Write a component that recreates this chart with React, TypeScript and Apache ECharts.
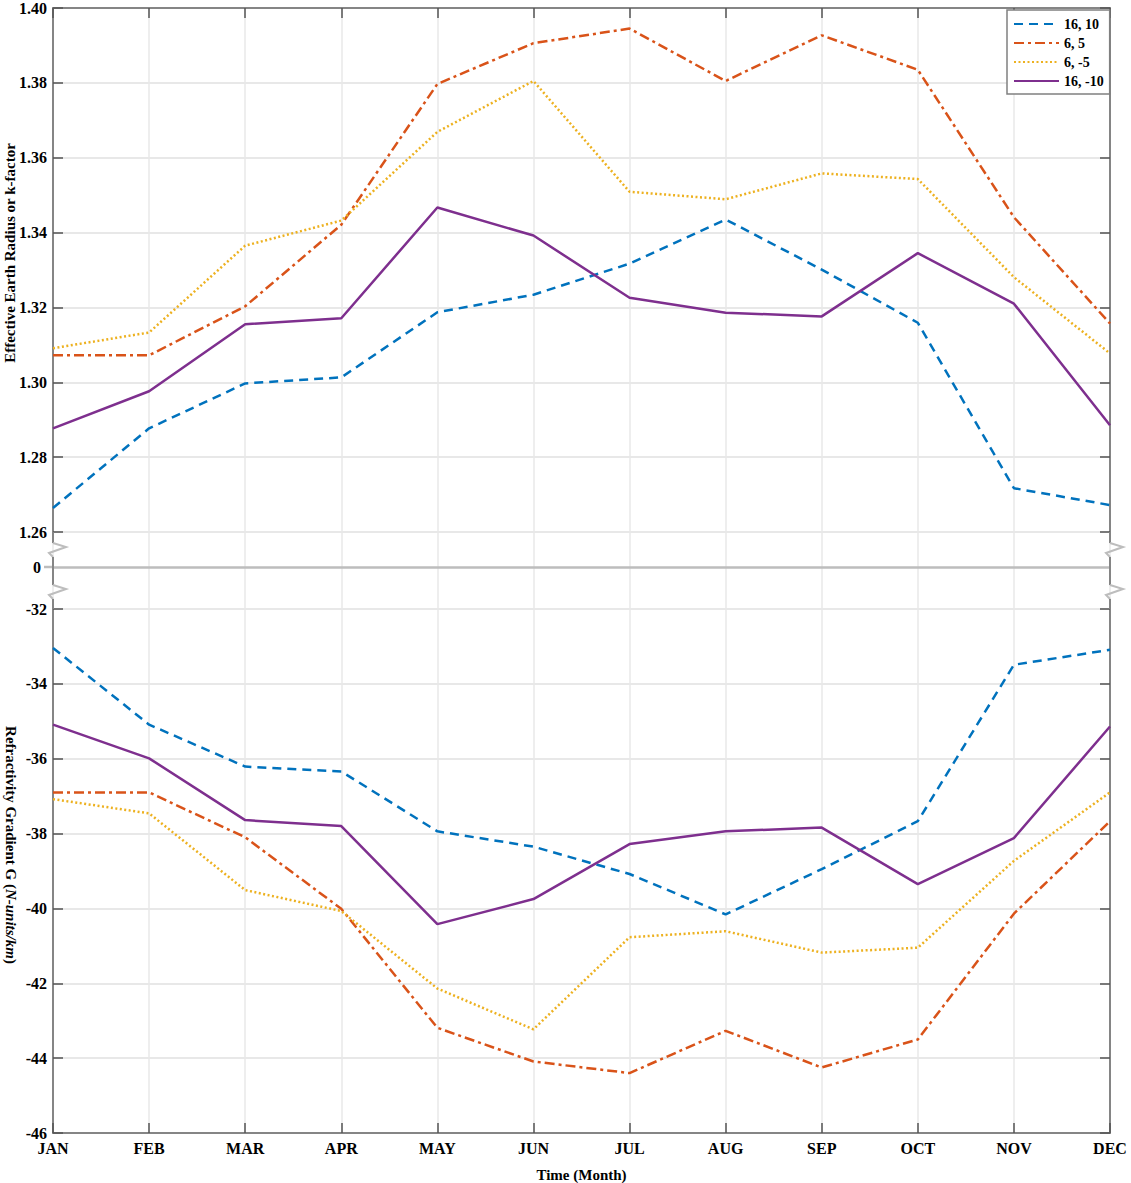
import React, { useEffect, useRef } from "react";
import * as echarts from "echarts";

const months = ["JAN", "FEB", "MAR", "APR", "MAY", "JUN", "JUL", "AUG", "SEP", "OCT", "NOV", "DEC"];
const seriesNames = ["16, 10", "6, 5", "6, -5", "16, -10"];

// Effective Earth Radius (k-factor)
const kBlue = [1.2664, 1.2877, 1.2997, 1.3013, 1.3187, 1.3234, 1.3317, 1.3435, 1.3301, 1.3159, 1.2717, 1.2672];
const kOrange = [1.3072, 1.3072, 1.3203, 1.3421, 1.3797, 1.3906, 1.3945, 1.3805, 1.3927, 1.3835, 1.3441, 1.3157];
const kYellow = [1.3091, 1.3133, 1.3365, 1.3432, 1.3669, 1.3805, 1.3509, 1.3489, 1.3558, 1.3543, 1.3281, 1.3077];
const kPurple = [1.2877, 1.2976, 1.3155, 1.3171, 1.3467, 1.3392, 1.3226, 1.3186, 1.3176, 1.3345, 1.321, 1.2885];

// Refractivity gradient G (N-units/km)
const gBlue = [-33.04, -35.09, -36.21, -36.34, -37.94, -38.35, -39.08, -40.16, -38.95, -37.67, -33.49, -33.09];
const gOrange = [-36.9, -36.9, -38.1, -40.01, -43.19, -44.09, -44.4, -43.27, -44.25, -43.5, -40.14, -37.67];
const gYellow = [-37.08, -37.46, -39.51, -40.07, -42.14, -43.23, -40.77, -40.61, -41.18, -41.05, -38.73, -36.9];
const gPurple = [-35.09, -35.99, -37.64, -37.8, -40.42, -39.75, -38.28, -37.94, -37.84, -39.35, -38.12, -35.14];

const kTicks = { min: 1.26, max: 1.4, interval: 0.02 };
const gTicks = { min: -46, max: -32, interval: 2 };

const SERIF = '"Liberation Serif", "Times New Roman", serif';
const colors = ["#0072BD", "#D95319", "#EDB120", "#7E2F8E"];
const lineTypes: any[] = [[9, 6], [10, 4, 3, 4], [2, 2.5], "solid"];

const AXIS = "#858585";
const TICK = "#555555";
const GRID = "#e8e8e8";
const BREAK = "#bdbdbd";

export default function App() {
  const ref = useRef<HTMLDivElement>(null);

  useEffect(() => {
    if (!ref.current) return;
    const chart = echarts.init(ref.current, undefined, { renderer: "svg" });

    const kData = [kBlue, kOrange, kYellow, kPurple];
    const gData = [gBlue, gOrange, gYellow, gPurple];

    const mkSeries = (data: number[], i: number, xi: number, yi: number) => ({
      name: seriesNames[i],
      type: "line",
      xAxisIndex: xi,
      yAxisIndex: yi,
      data,
      symbol: "none",
      showSymbol: false,
      z: 3,
      lineStyle: { color: colors[i], width: 2.5, type: lineTypes[i] },
      itemStyle: { color: colors[i] },
    });

    const tickLabel = { color: "#000", fontFamily: SERIF, fontWeight: "bold", fontSize: 16 };

    const leftY = (grid: number, t: any, fmt: (v: number) => string) => ({
      type: "value",
      gridIndex: grid,
      position: "left",
      min: t.min,
      max: t.max,
      interval: t.interval,
      axisLine: { show: true, lineStyle: { color: AXIS, width: 2 } },
      axisTick: { show: true, inside: true, length: 10, lineStyle: { color: TICK, width: 1.5 } },
      axisLabel: { ...tickLabel, margin: 6, formatter: fmt },
      splitLine: { show: true, lineStyle: { color: GRID, width: 2 } },
    });
    const rightY = (grid: number, t: any) => ({
      type: "value",
      gridIndex: grid,
      position: "right",
      min: t.min,
      max: t.max,
      interval: t.interval,
      axisLine: { show: true, lineStyle: { color: AXIS, width: 2 } },
      axisTick: { show: true, inside: true, length: 10, lineStyle: { color: TICK, width: 1.5 } },
      axisLabel: { show: false },
      splitLine: { show: false },
    });

    const zig = (x: number, y: number) => ({
      type: "polyline",
      silent: true,
      shape: { points: [[x, y], [x + 13, y + 4], [x - 4, y + 10], [x, y + 14]] },
      style: { stroke: BREAK, lineWidth: 2, fill: "none" },
      z: 10,
    });
    const vseg = (x: number, y1: number, y2: number) => ({
      type: "line",
      silent: true,
      shape: { x1: x, y1, x2: x, y2 },
      style: { stroke: AXIS, lineWidth: 2 },
      z: 10,
    });
    const breakMarks = (x: number) => [
      vseg(x, 532, 543),
      zig(x, 543),
      vseg(x, 557, 585),
      zig(x, 585),
      vseg(x, 599, 609),
    ];

    const option: any = {
      animation: false,
      backgroundColor: "#ffffff",
      grid: [
        { left: 53, right: 21, top: 7, height: 525 },
        { left: 53, right: 21, top: 609, height: 526 },
        { left: 53, right: 21, top: 532, height: 77 },
      ],
      legend: {
        data: seriesNames,
        orient: "vertical",
        left: 1007,
        top: 10,
        itemWidth: 45,
        itemHeight: 14,
        itemGap: 5,
        padding: [7, 6, 6, 6],
        borderColor: "#808080",
        borderWidth: 1.5,
        backgroundColor: "#ffffff",
        itemStyle: { opacity: 0, borderWidth: 0 },
        textStyle: { color: "#000", fontFamily: SERIF, fontWeight: "bold", fontSize: 14 },
      },
      xAxis: [
        {
          type: "category",
          gridIndex: 0,
          position: "top",
          data: months,
          boundaryGap: false,
          axisLine: { show: true, lineStyle: { color: AXIS, width: 2 } },
          axisTick: { show: true, inside: true, length: 10, lineStyle: { color: TICK, width: 1.5 } },
          axisLabel: { show: false },
          splitLine: { show: true, lineStyle: { color: GRID, width: 1.5 } },
        },
        {
          type: "category",
          gridIndex: 1,
          position: "bottom",
          data: months,
          boundaryGap: false,
          name: "Time (Month)",
          nameLocation: "middle",
          nameGap: 34,
          nameTextStyle: { color: "#000", fontFamily: SERIF, fontWeight: "bold", fontSize: 15 },
          axisLine: { show: true, lineStyle: { color: AXIS, width: 2 } },
          axisTick: { show: true, inside: true, length: 10, lineStyle: { color: TICK, width: 1.5 } },
          axisLabel: { ...tickLabel, margin: 7 },
          splitLine: { show: true, lineStyle: { color: GRID, width: 1.5 } },
        },
        {
          type: "category",
          gridIndex: 2,
          data: months,
          boundaryGap: false,
          axisLine: { show: false },
          axisTick: { show: false },
          axisLabel: { show: false },
          splitLine: { show: true, lineStyle: { color: GRID, width: 1.5 } },
        },
      ],
      yAxis: [
        leftY(0, kTicks, (v: number) => v.toFixed(2)),
        rightY(0, kTicks),
        leftY(1, gTicks, (v: number) => String(Math.round(v))),
        rightY(1, gTicks),
        {
          type: "value",
          gridIndex: 2,
          position: "left",
          min: -6,
          max: 5,
          interval: 1,
          axisLine: { show: false },
          axisTick: { show: false },
          axisLabel: {
            ...tickLabel,
            margin: 12,
            formatter: (v: number) => (Math.abs(v) < 1e-9 ? "0" : ""),
          },
          splitLine: { show: false },
        },
      ],
      graphic: [
        ...breakMarks(53),
        ...breakMarks(1110),
        {
          type: "line",
          silent: true,
          shape: { x1: 44, y1: 567, x2: 53, y2: 567 },
          style: { stroke: BREAK, lineWidth: 2.5 },
        },
        {
          type: "text",
          silent: true,
          x: 10,
          y: 253,
          rotation: Math.PI / 2,
          style: {
            text: "Effective Earth Radius or k-factor",
            fill: "#000",
            font: `bold 15px ${SERIF}`,
            align: "center",
            verticalAlign: "middle",
          },
        },
        {
          type: "text",
          silent: true,
          x: 11,
          y: 845,
          rotation: -Math.PI / 2,
          style: {
            text: "{a|Refractivity Gradient G (}{b|N-units/km}{a|)}",
            align: "center",
            verticalAlign: "middle",
            rich: {
              a: { fill: "#000", fontFamily: SERIF, fontWeight: "bold", fontSize: 15 },
              b: { fill: "#000", fontFamily: SERIF, fontWeight: "bold", fontStyle: "italic", fontSize: 15 },
            },
          },
        },
      ],
      series: [
        ...kData.map((d, i) => mkSeries(d, i, 0, 0)),
        ...gData.map((d, i) => mkSeries(d, i, 1, 2)),
        {
          type: "line",
          xAxisIndex: 2,
          yAxisIndex: 4,
          data: months.map(() => null),
          symbol: "none",
          silent: true,
          markLine: {
            silent: true,
            symbol: ["none", "none"],
            label: { show: false },
            lineStyle: { color: BREAK, width: 2.5, type: "solid" },
            data: [{ yAxis: 0 }],
          },
        },
      ],
    };

    chart.setOption(option);
    return () => chart.dispose();
  }, []);

  return (
    <div
      ref={ref}
      style={{ position: "absolute", left: 0, top: 0, width: 1131, height: 1183 }}
    />
  );
}
